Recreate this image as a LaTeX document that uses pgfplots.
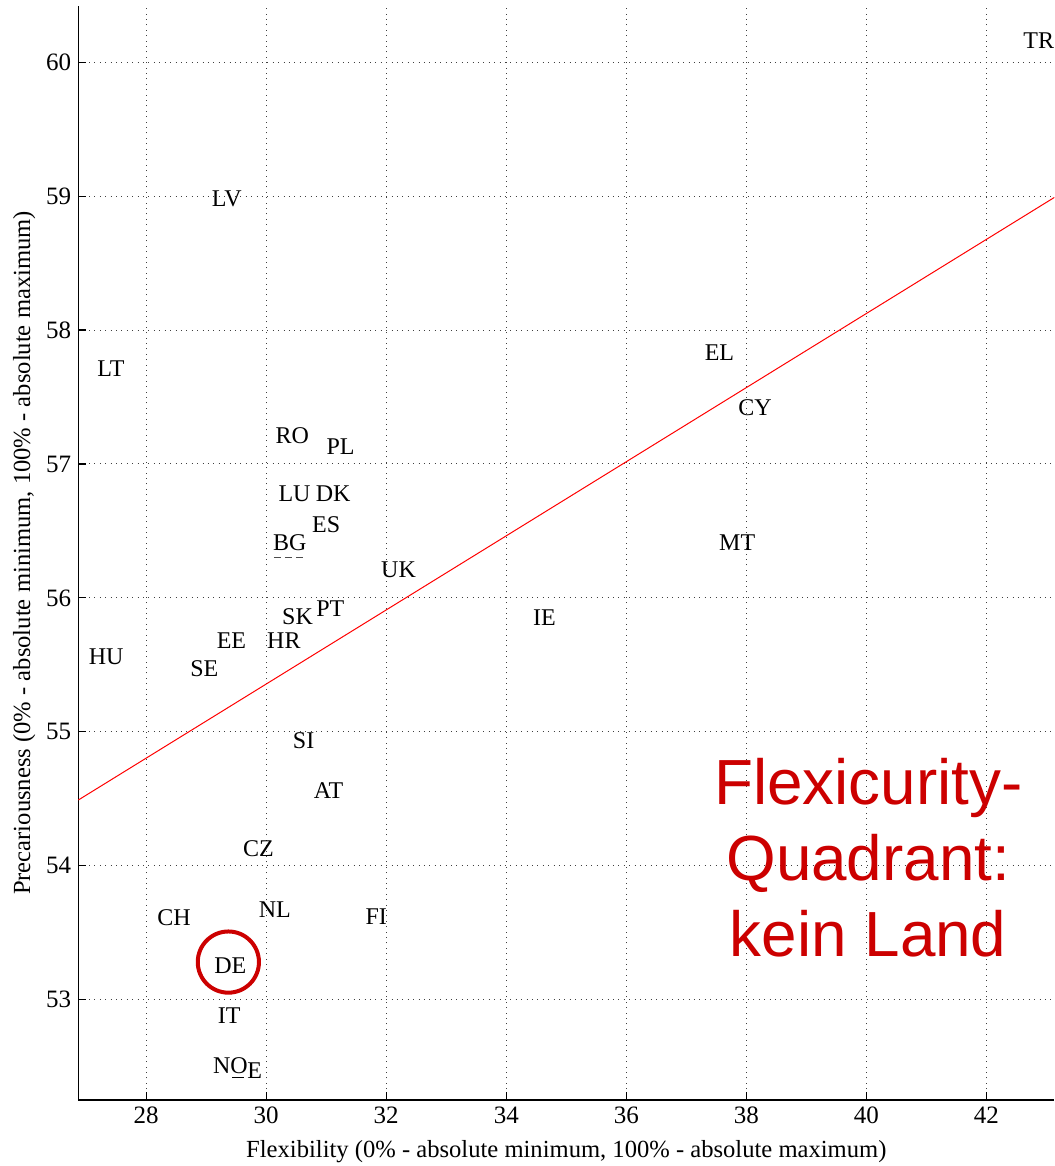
\documentclass[border=0pt]{standalone}
\usepackage{fontspec}
\setmainfont{Liberation Serif}
\newfontfamily\arialfont{Liberation Sans}
\usepackage{pgfplots}
\usepackage{pgfplotstable}
\pgfplotsset{compat=1.18}
\definecolor{mred}{RGB}{204,0,0}

\pgfplotstableread{
label x y
LT 27.18 57.71
LV 29.09 58.98
TR 42.61 60.16
RO 30.15 57.21
PL 31.00 57.13
LU 30.20 56.78
DK 30.82 56.78
ES 30.76 56.55
BG 30.11 56.41
UK 31.91 56.21
SK 30.26 55.86
PT 30.83 55.92
EE 29.17 55.68
HR 30.01 55.68
HU 27.04 55.56
SE 28.73 55.47
IE 34.44 55.85
EL 37.30 57.83
CY 37.86 57.42
MT 37.54 56.41
SI 30.44 54.93
AT 30.79 54.56
CZ 29.61 54.13
NL 29.87 53.67
CH 28.18 53.61
FI 31.65 53.62
DE 29.13 53.25
IT 29.19 52.88
NO 29.11 52.51
E 29.68 52.47
}\countries

\begin{document}
\begin{tikzpicture}
\begin{axis}[
  width=488pt, height=547pt, scale only axis,
  xmin=26.87, xmax=43.13, ymin=52.25, ymax=60.42,
  axis x line*=bottom, axis y line*=left,
  axis line style={line width=0.6pt},
  xtick={28,30,...,42}, ytick={53,54,...,60},
  tick align=inside, major tick length=4pt,
  tick style={line width=0.6pt, black},
  grid=major,
  major grid style={black!75, line width=0.5pt, dash pattern=on 0.5pt off 2.2pt},
  /pgf/number format/assume math mode=true,
  ticklabel style={font=\fontsize{12.5}{14}\selectfont},
  xlabel={Flexibility (0\% - absolute minimum, 100\% - absolute maximum)},
  ylabel={Precariousness (0\% - absolute minimum, 100\% - absolute maximum)},
  label style={font=\fontsize{12.3}{14}\selectfont},
  xlabel style={at={(axis description cs:0.5,0)}, anchor=center, yshift=-26pt},
  ylabel style={at={(axis description cs:-0.0553,0.5)}, anchor=center},
  clip=false,
]
% regression line
\addplot[red, line width=0.5pt] coordinates {(26.87,54.49) (43.13,58.99)};
% country labels
\addplot[draw=none, nodes near coords, point meta=explicit symbolic,
  nodes near coords style={anchor=west, inner sep=0pt, font=\fontsize{12}{13}\selectfont, text=black}]
  table[x=x, y=y, meta=label] {\countries};
% overlap artefacts
\addplot[draw=none, nodes near coords={\rule{5.8pt}{0.6pt}},
  nodes near coords style={anchor=west, inner sep=0pt}] coordinates {(29.43,52.42)};
\addplot[draw=none, nodes near coords={\rule{3.5pt}{0.5pt}\hspace{2pt}\rule{3.5pt}{0.5pt}\hspace{2pt}\rule{3.5pt}{0.5pt}},
  nodes near coords style={anchor=west, inner sep=0pt, black!70}] coordinates {(30.12,56.30)};
% highlight circle
\addplot[only marks, mark=o, mark size=15.3pt, mark options={draw=mred, line width=2pt}] coordinates {(29.37,53.28)};
\node[anchor=center, align=center, text=mred, inner sep=0pt,
  font=\arialfont\fontsize{31.9}{37.85}\selectfont] at (axis cs:40.03,54.06) {Flexicurity-\\Quadrant:\\kein Land};
\end{axis}
\pgfresetboundingbox
\useasboundingbox (-39.15pt,-33pt) rectangle (488pt,550pt);
\end{tikzpicture}
\end{document}
